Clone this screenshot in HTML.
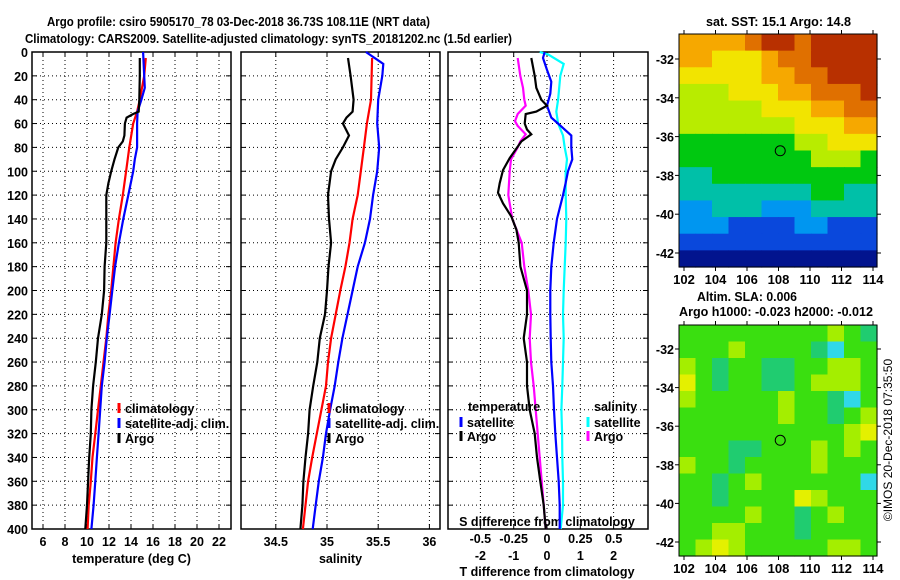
<!DOCTYPE html>
<html><head><meta charset="utf-8"><style>
html,body{margin:0;padding:0;background:#fff;}
svg{display:block;font-family:"Liberation Sans",sans-serif;font-weight:bold;font-size:12.5px;}
</style></head><body>
<svg id="fig" width="900" height="580" viewBox="0 0 900 580" xmlns="http://www.w3.org/2000/svg">
<rect width="900" height="580" fill="#fff"/>
<text x="47" y="26" font-size="13" textLength="383" lengthAdjust="spacingAndGlyphs">Argo profile: csiro 5905170_78 03-Dec-2018 36.73S 108.11E (NRT data)</text>
<text x="25" y="43" font-size="13" textLength="487" lengthAdjust="spacingAndGlyphs">Climatology: CARS2009. Satellite-adjusted climatology: synTS_20181202.nc (1.5d earlier)</text>
<g id="g1"></g>
<g id="g2"></g>
<g id="g3"></g>
<g id="m1"></g>
<g id="m2"></g>
<text x="706" y="26" textLength="145" lengthAdjust="spacingAndGlyphs">sat. SST: 15.1 Argo: 14.8</text>
<text x="697" y="301" textLength="100" lengthAdjust="spacingAndGlyphs">Altim. SLA: 0.006</text>
<text x="679" y="316" textLength="194" lengthAdjust="spacingAndGlyphs">Argo h1000: -0.023 h2000: -0.012</text>
<text transform="translate(892,440) rotate(-90)" text-anchor="middle" font-weight="normal" font-size="12">©IMOS 20-Dec-2018 07:35:50</text>
</svg>
<script>
const NS="http://www.w3.org/2000/svg";
// ---- Temperature panel data ----
const tempArgoDepth=[5,20,40,50,52,55,60,70,75,80,90,100,110,120,140,160,180,200,220,240,260,280,300,320,340,360,380,400];
const tempArgo=[14.8,14.8,14.75,14.7,14.2,13.6,13.45,13.4,13.25,12.85,12.5,12.2,11.95,11.75,11.75,11.75,11.6,11.55,11.35,11.0,10.8,10.55,10.4,10.35,10.2,10.1,10.0,9.85];
const tempClimDepth=[5,20,40,50,60,80,100,120,140,160,180,200,220,240,260,280,300,320,340,360,380,400];
const tempClim=[15.35,15.2,14.8,14.55,14.2,13.85,13.55,13.25,12.9,12.6,12.4,12.2,11.95,11.75,11.5,11.25,11.0,10.75,10.5,10.35,10.15,10.05];
const tempSatDepth=[0,20,30,40,50,60,80,90,100,120,140,160,180,200,220,240,260,280,300,320,340,360,380,400];
const tempSat=[15.1,15.2,15.25,14.95,14.6,14.55,14.55,14.35,14.2,13.75,13.3,12.9,12.55,12.3,12.05,11.8,11.6,11.35,11.2,11.05,10.9,10.75,10.6,10.4];
const tempTicks=[6,8,10,12,14,16,18,20,22];
// ---- Salinity panel data ----
const salArgoDepth=[5,20,40,50,55,60,70,80,90,100,120,140,160,180,200,220,240,260,280,300,320,340,360,380,400];
const salArgo=[35.205,35.23,35.26,35.25,35.19,35.155,35.215,35.155,35.085,35.04,35.01,35.02,35.04,35.015,35.0,34.98,34.93,34.905,34.865,34.83,34.815,34.79,34.77,34.76,34.74];
const salClimDepth=[5,40,60,80,100,120,140,160,180,200,220,240,260,280,300,320,340,360,380,400];
const salClim=[35.44,35.43,35.39,35.36,35.33,35.3,35.25,35.22,35.18,35.13,35.085,35.04,35.01,34.99,34.945,34.9,34.855,34.815,34.79,34.765];
const salSatDepth=[0,10,20,40,60,80,100,120,140,160,180,200,220,240,260,280,300,320,340,360,380,400];
const salSat=[35.38,35.55,35.54,35.5,35.49,35.51,35.49,35.45,35.42,35.37,35.3,35.25,35.2,35.15,35.11,35.075,35.03,34.99,34.96,34.92,34.89,34.86];
const salTicks=[34.5,35,35.5,36];
// ---- Difference panel data ----
const dTArgoDepth=[5,20,30,40,45,50,52,60,65,69,75,89,99,110,118,127,138,149,160,180,200,220,240,260,280,300,320,340,360,380,400];
const dTArgo=[-0.47,-0.37,-0.32,-0.17,0,-0.32,-0.64,-0.67,-0.6,-0.47,-0.77,-1.12,-1.32,-1.42,-1.47,-1.32,-1.07,-0.92,-0.85,-0.8,-0.6,-0.6,-0.7,-0.6,-0.6,-0.52,-0.37,-0.3,-0.2,-0.1,-0.04];
const dSArgoDepth=[5,20,30,40,45,52,58,62,69,75,80,90,100,120,140,160,180,200,220,240,260,280,300,320,340,360,380,400];
const dSArgo=[-0.22,-0.2,-0.18,-0.17,-0.16,-0.22,-0.24,-0.22,-0.16,-0.2,-0.22,-0.27,-0.28,-0.29,-0.26,-0.19,-0.17,-0.14,-0.12,-0.13,-0.12,-0.1,-0.085,-0.07,-0.055,-0.04,-0.025,-0.01];
const dTSatDepth=[0,5,15,25,35,45,55,60,70,80,90,100,110,120,140,160,180,200,220,240,260,280,300,320,340,360,380,400];
const dTSat=[-0.07,-0.12,0,0.13,0.1,0,0.13,0.33,0.73,0.73,0.76,0.63,0.56,0.48,0.3,0.2,0.13,0.1,0.1,0.11,0.13,0.18,0.21,0.25,0.3,0.35,0.38,0.38];
const dSSatDepth=[0,2,10,20,40,50,60,70,80,90,100,120,140,160,180,200,220,240,260,280,300,320,340,360,380,400];
const dSSat=[-0.055,0.008,0.125,0.1,0.083,0.07,0.083,0.12,0.133,0.15,0.14,0.14,0.145,0.14,0.133,0.125,0.12,0.125,0.12,0.115,0.108,0.113,0.115,0.12,0.12,0.103];
const dTTicks=[-2,-1,0,1,2];
const dSTicks=[-0.5,-0.25,0,0.25,0.5];
const dSTickLabels=["-0.5","-0.25","0","0.25","0.5"];
const depthTicks=[0,20,40,60,80,100,120,140,160,180,200,220,240,260,280,300,320,340,360,380,400];
// ---- Map data ----
const mapLonTicks=[102,104,106,108,110,112,114];
const mapLatTicks=[-32,-34,-36,-38,-40,-42];
const argoLon=108.11, argoLat=-36.73;
const sstGrid=[
[7,7,7,7,8,9,9,8,9,9,9,9],
[7,7,6,6,6,7,8,8,9,9,9,9],
[6,6,6,6,6,7,7,8,8,9,9,9],
[5,5,5,6,6,6,7,7,8,8,8,9],
[5,5,5,5,5,6,6,6,7,7,8,8],
[5,5,5,5,5,5,5,6,6,6,7,7],
[4,4,4,4,4,4,4,5,5,6,6,6],
[4,4,4,4,4,4,4,4,5,5,5,4],
[3,3,4,4,4,4,4,4,4,4,4,4],
[3,3,3,3,3,3,3,3,4,4,3,3],
[2,2,3,3,3,2,2,2,3,3,3,3],
[2,2,2,1,1,1,1,2,2,1,1,1],
[1,1,1,1,1,1,1,1,1,1,1,1],
[0,0,0,0,0,0,0,0,0,0,0,0]];
const slaGrid=[
[2,2,2,2,2,2,2,2,2,3,2,1],
[2,2,2,3,2,2,2,2,1,5,2,2],
[3,2,1,2,2,1,1,2,2,3,3,2],
[4,2,1,2,2,1,1,2,3,3,3,2],
[3,2,2,2,2,2,3,2,2,1,5,2],
[2,2,2,2,2,2,3,2,2,1,2,3],
[2,2,2,2,2,2,2,2,2,2,3,4],
[2,2,2,1,1,2,2,2,3,2,3,2],
[3,2,2,1,2,2,2,2,3,2,2,2],
[2,2,1,2,3,2,2,2,2,2,2,5],
[2,2,1,2,2,2,2,4,3,2,2,2],
[2,2,2,2,3,2,2,1,2,3,2,2],
[2,2,3,3,2,2,2,1,2,2,2,2],
[2,3,4,3,2,2,2,2,2,3,3,2]];
const sstColors=["#02148e","#0a48dc","#0096f0","#00c0a8","#00c810","#b8ec00","#f2e400","#f6a800","#e07000","#b83000"];
const slaColors=["#00b4a0","#20cc70","#3adf10","#a4ee00","#e4f000","#30d8e8"];

function el(parent,tag,attrs,name,inter){const e=document.createElementNS(NS,tag);for(const k in attrs)e.setAttribute(k,attrs[k]);


parent.appendChild(e);return e;}
function txt(parent,x,y,s,anchor,name,extra){const t=el(parent,'text',Object.assign({x:x,y:y,'text-anchor':anchor||'start'},extra||{}),name,false);t.textContent=s;return t;}

const Y0=52,Y1=529;
const yD=d=>Y0+(Y1-Y0)*d/400;

function panel(g,x0,x1,xs,xticks,xlabels,gridX,label,leftLabels){
  el(g,'rect',{x:x0,y:Y0,width:x1-x0,height:Y1-Y0,fill:'#fff',stroke:'#000','stroke-width':1.5},'panel-frame',false);
  xticks.forEach((v,i)=>{const x=xs(v);
    if(gridX) el(g,'line',{x1:x,x2:x,y1:Y0,y2:Y1,stroke:'#000','stroke-width':1,'stroke-dasharray':'1,3'},'grid-line-x',false);
    el(g,'line',{x1:x,x2:x,y1:Y1,y2:Y1-5,stroke:'#000'},'x-tick',false);
    el(g,'line',{x1:x,x2:x,y1:Y0,y2:Y0+5,stroke:'#000'},'x-tick',false);
    if(xlabels) txt(g,x,546,xlabels[i],'middle','x-tick-label');
  });
  depthTicks.forEach(d=>{const y=yD(d);
    if(d>0&&d<400) el(g,'line',{x1:x0,x2:x1,y1:y,y2:y,stroke:'#000','stroke-width':1,'stroke-dasharray':'1,3'},'grid-line-y',false);
    el(g,'line',{x1:x0,x2:x0+5,y1:y,y2:y,stroke:'#000'},'y-tick',false);
    el(g,'line',{x1:x1,x2:x1-5,y1:y,y2:y,stroke:'#000'},'y-tick',false);
    if(leftLabels) txt(g,x0-4,y+5,String(d),'end','depth-tick-label');
  });
  if(label) txt(g,(x0+x1)/2,563,label,'middle','x-axis-title');
}
function series(g,xs,depths,vals,color,name,w){
  const pts=depths.map((d,i)=>xs(vals[i]).toFixed(1)+','+yD(d).toFixed(1)).join(' ');
  el(g,'polyline',{points:pts,fill:'none',stroke:color,'stroke-width':w||2.2},name,false);
}
function legend(g,x,y,color,label,name){
  el(g,'line',{x1:x,x2:x,y1:y-10,y2:y,stroke:color,'stroke-width':3},name+'-swatch',false);
  txt(g,x+6,y,label,'start',name);
}
// Panel 1
const g1=document.getElementById('g1');
const xT=v=>43+(v-6)*11;
panel(g1,32,231,xT,tempTicks,tempTicks.map(String),true,'temperature (deg C)',true);
series(g1,xT,tempClimDepth,tempClim,'#f00','temp-climatology-line');
series(g1,xT,tempSatDepth,tempSat,'#00f','temp-satellite-line');
series(g1,xT,tempArgoDepth,tempArgo,'#000','temp-argo-line');
legend(g1,119,413,'#f00','climatology','legend-climatology');
legend(g1,119,428,'#00f','satellite-adj. clim.','legend-satellite');
legend(g1,119,443,'#000','Argo','legend-argo');
// Panel 2
const g2=document.getElementById('g2');
const xS=v=>327+(v-35)*102.4;
panel(g2,241,440,xS,salTicks,salTicks.map(String),true,'salinity',false);
series(g2,xS,salClimDepth,salClim,'#f00','sal-climatology-line');
series(g2,xS,salSatDepth,salSat,'#00f','sal-satellite-line');
series(g2,xS,salArgoDepth,salArgo,'#000','sal-argo-line');
legend(g2,329,413,'#f00','climatology','legend-climatology');
legend(g2,329,428,'#00f','satellite-adj. clim.','legend-satellite');
legend(g2,329,443,'#000','Argo','legend-argo');
// Panel 3
const g3=document.getElementById('g3');
const xDT=v=>547+v*33.3;
const xDS=v=>547+v*133.3;
panel(g3,448,648,xDT,dTTicks,null,true,null,false);
dTTicks.forEach(v=>txt(g3,xDT(v),560,String(v),'middle','t-diff-tick-label'));
dSTicks.forEach((v,i)=>txt(g3,xDS(v),543,dSTickLabels[i],'middle','s-diff-tick-label'));
txt(g3,547,526,'S difference from climatology','middle','s-diff-axis-title');
txt(g3,547,576,'T difference from climatology','middle','t-diff-axis-title');
series(g3,xDS,dSSatDepth,dSSat,'#00ffff','s-diff-satellite-line');
series(g3,xDT,dTSatDepth,dTSat,'#00f','t-diff-satellite-line');
series(g3,xDS,dSArgoDepth,dSArgo,'#ff00ff','s-diff-argo-line');
series(g3,xDT,dTArgoDepth,dTArgo,'#000','t-diff-argo-line');
txt(g3,468,411,'temperature','start','legend-temperature-heading');
legend(g3,461,427,'#00f','satellite','legend-t-satellite');
legend(g3,461,441,'#000','Argo','legend-t-argo');
txt(g3,594,411,'salinity','start','legend-salinity-heading');
legend(g3,588,427,'#00ffff','satellite','legend-s-satellite');
legend(g3,588,441,'#ff00ff','Argo','legend-s-argo');
// Maps
function map(g,top,bot,grid,colors,yLat0,yLat1,xlabY){
  const L=679,R=877,rows=grid.length,cols=grid[0].length;
  const cw=(R-L)/cols,ch=(bot-top)/rows;
  grid.forEach((row,r)=>row.forEach((v,c)=>{
    el(g,'rect',{x:(L+c*cw).toFixed(2),y:(top+r*ch).toFixed(2),width:(cw+0.6).toFixed(2),height:(ch+0.6).toFixed(2),fill:colors[v]},'map-cell',false);
  }));
  el(g,'rect',{x:L,y:top,width:R-L,height:bot-top,fill:'none',stroke:'#000','stroke-width':1},'map-frame',false);
  const xl=v=>684+(v-102)*15.75;
  mapLonTicks.forEach(v=>{const x=xl(v);
    el(g,'line',{x1:x,x2:x,y1:bot,y2:bot+4,stroke:'#000'},'map-x-tick',false);
    el(g,'line',{x1:x,x2:x,y1:top,y2:top-4,stroke:'#000'},'map-x-tick',false);
    txt(g,x,xlabY,String(v),'middle','map-lon-label',{'font-size':'13'});
  });
  mapLatTicks.forEach(v=>{const y=yLat0+(-32-v)*(yLat1-yLat0)/10;
    el(g,'line',{x1:L,x2:L-4,y1:y,y2:y,stroke:'#000'},'map-y-tick',false);
    el(g,'line',{x1:R,x2:R+4,y1:y,y2:y,stroke:'#000'},'map-y-tick',false);
    txt(g,L-5,y+5,String(v),'end','map-lat-label');
  });
  const ay=yLat0+(-32-argoLat)*(yLat1-yLat0)/10;
  el(g,'circle',{cx:xl(argoLon),cy:ay,r:5,fill:'none',stroke:'#000','stroke-width':1},'argo-position-marker',false);
}
map(document.getElementById('m1'),34,267,sstGrid,sstColors,59,253,284);
map(document.getElementById('m2'),325,556,slaGrid,slaColors,349,542,573);
</script>
</body></html>
